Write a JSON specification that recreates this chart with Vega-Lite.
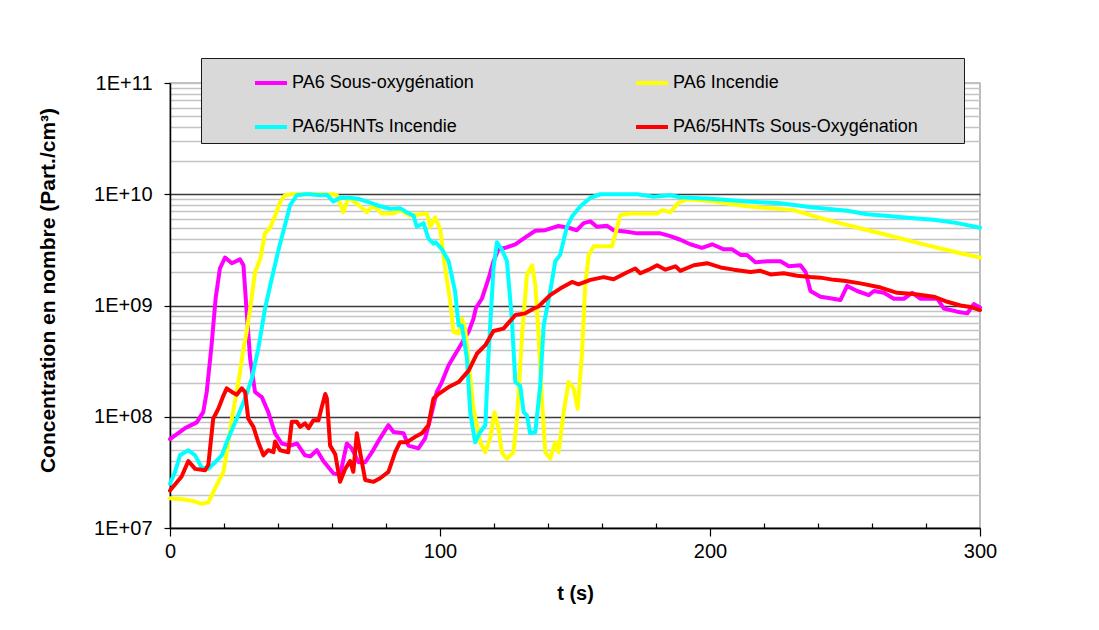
{
  "$schema": "https://vega.github.io/schema/vega-lite/v6.json",
  "width": 810,
  "height": 445,
  "autosize": "none",
  "padding": {"left": 170, "top": 83, "right": 119, "bottom": 102},
  "background": "white",
  "config": {
    "font": "Liberation Sans",
    "view": {"stroke": "#a6a6a6", "strokeWidth": 1.5},
    "legend": {
      "orient": "none",
      "legendX": 31,
      "legendY": -25,
      "columns": 2,
      "fillColor": "#d9d9d9",
      "strokeColor": "#1a1a1a",
      "padding": 7,
      "symbolType": "stroke",
      "symbolSize": 1024,
      "symbolStrokeWidth": 4,
      "symbolOffset": 45,
      "labelFont": "Liberation Sans",
      "labelFontSize": 18,
      "labelColor": "#000000",
      "labelOffset": 3,
      "labelLimit": 400,
      "columnPadding": 115,
      "rowPadding": 17
    }
  },
  "data": {
    "values": [
      {"s": "PA6 Sous-oxygénation", "t": 0, "v": 6.3e7},
      {"s": "PA6 Sous-oxygénation", "t": 5.6, "v": 7.9e7},
      {"s": "PA6 Sous-oxygénation", "t": 9.9, "v": 8.9e7},
      {"s": "PA6 Sous-oxygénation", "t": 12.3, "v": 1.1e8},
      {"s": "PA6 Sous-oxygénation", "t": 13.6, "v": 1.67e8},
      {"s": "PA6 Sous-oxygénation", "t": 15.4, "v": 4.4e8},
      {"s": "PA6 Sous-oxygénation", "t": 16.9, "v": 1.16e9},
      {"s": "PA6 Sous-oxygénation", "t": 18.5, "v": 2.16e9},
      {"s": "PA6 Sous-oxygénation", "t": 20.4, "v": 2.7e9},
      {"s": "PA6 Sous-oxygénation", "t": 22.9, "v": 2.4e9},
      {"s": "PA6 Sous-oxygénation", "t": 25.9, "v": 2.6e9},
      {"s": "PA6 Sous-oxygénation", "t": 27.2, "v": 2.3e9},
      {"s": "PA6 Sous-oxygénation", "t": 28.4, "v": 8.8e8},
      {"s": "PA6 Sous-oxygénation", "t": 29.7, "v": 3.3e8},
      {"s": "PA6 Sous-oxygénation", "t": 31.5, "v": 1.67e8},
      {"s": "PA6 Sous-oxygénation", "t": 34, "v": 1.5e8},
      {"s": "PA6 Sous-oxygénation", "t": 36.4, "v": 1.1e8},
      {"s": "PA6 Sous-oxygénation", "t": 38.9, "v": 7.1e7},
      {"s": "PA6 Sous-oxygénation", "t": 41.4, "v": 5.75e7},
      {"s": "PA6 Sous-oxygénation", "t": 44.5, "v": 5.5e7},
      {"s": "PA6 Sous-oxygénation", "t": 47, "v": 5.75e7},
      {"s": "PA6 Sous-oxygénation", "t": 50, "v": 4.5e7},
      {"s": "PA6 Sous-oxygénation", "t": 51.9, "v": 4.4e7},
      {"s": "PA6 Sous-oxygénation", "t": 54.4, "v": 5e7},
      {"s": "PA6 Sous-oxygénation", "t": 56.8, "v": 4e7},
      {"s": "PA6 Sous-oxygénation", "t": 60.5, "v": 3.1e7},
      {"s": "PA6 Sous-oxygénation", "t": 63, "v": 3e7},
      {"s": "PA6 Sous-oxygénation", "t": 65.5, "v": 5.75e7},
      {"s": "PA6 Sous-oxygénation", "t": 67.3, "v": 5.2e7},
      {"s": "PA6 Sous-oxygénation", "t": 69.8, "v": 3.9e7},
      {"s": "PA6 Sous-oxygénation", "t": 72.3, "v": 3.9e7},
      {"s": "PA6 Sous-oxygénation", "t": 74.8, "v": 4.8e7},
      {"s": "PA6 Sous-oxygénation", "t": 77.8, "v": 6.4e7},
      {"s": "PA6 Sous-oxygénation", "t": 80.9, "v": 8.4e7},
      {"s": "PA6 Sous-oxygénation", "t": 82.8, "v": 7.3e7},
      {"s": "PA6 Sous-oxygénation", "t": 86.5, "v": 7.1e7},
      {"s": "PA6 Sous-oxygénation", "t": 88.3, "v": 5.5e7},
      {"s": "PA6 Sous-oxygénation", "t": 92, "v": 5.2e7},
      {"s": "PA6 Sous-oxygénation", "t": 94.5, "v": 6.4e7},
      {"s": "PA6 Sous-oxygénation", "t": 97, "v": 1.1e8},
      {"s": "PA6 Sous-oxygénation", "t": 98.8, "v": 1.67e8},
      {"s": "PA6 Sous-oxygénation", "t": 100.7, "v": 2.05e8},
      {"s": "PA6 Sous-oxygénation", "t": 103.2, "v": 2.9e8},
      {"s": "PA6 Sous-oxygénation", "t": 106.9, "v": 4.1e8},
      {"s": "PA6 Sous-oxygénation", "t": 110.6, "v": 5.8e8},
      {"s": "PA6 Sous-oxygénation", "t": 112.4, "v": 7.6e8},
      {"s": "PA6 Sous-oxygénation", "t": 113.3, "v": 9.5e8},
      {"s": "PA6 Sous-oxygénation", "t": 115.5, "v": 1.15e9},
      {"s": "PA6 Sous-oxygénation", "t": 118, "v": 1.75e9},
      {"s": "PA6 Sous-oxygénation", "t": 119.8, "v": 2.5e9},
      {"s": "PA6 Sous-oxygénation", "t": 121.7, "v": 3.2e9},
      {"s": "PA6 Sous-oxygénation", "t": 124.2, "v": 3.3e9},
      {"s": "PA6 Sous-oxygénation", "t": 127.9, "v": 3.55e9},
      {"s": "PA6 Sous-oxygénation", "t": 131.6, "v": 4.1e9},
      {"s": "PA6 Sous-oxygénation", "t": 135.3, "v": 4.7e9},
      {"s": "PA6 Sous-oxygénation", "t": 139, "v": 4.75e9},
      {"s": "PA6 Sous-oxygénation", "t": 143.9, "v": 5.2e9},
      {"s": "PA6 Sous-oxygénation", "t": 147.6, "v": 5e9},
      {"s": "PA6 Sous-oxygénation", "t": 150.7, "v": 4.75e9},
      {"s": "PA6 Sous-oxygénation", "t": 153.2, "v": 5.5e9},
      {"s": "PA6 Sous-oxygénation", "t": 155.7, "v": 5.7e9},
      {"s": "PA6 Sous-oxygénation", "t": 158.1, "v": 5.1e9},
      {"s": "PA6 Sous-oxygénation", "t": 161.9, "v": 5.2e9},
      {"s": "PA6 Sous-oxygénation", "t": 164.3, "v": 4.75e9},
      {"s": "PA6 Sous-oxygénation", "t": 169.3, "v": 4.6e9},
      {"s": "PA6 Sous-oxygénation", "t": 173, "v": 4.45e9},
      {"s": "PA6 Sous-oxygénation", "t": 177.9, "v": 4.45e9},
      {"s": "PA6 Sous-oxygénation", "t": 181.6, "v": 4.45e9},
      {"s": "PA6 Sous-oxygénation", "t": 185.3, "v": 4.2e9},
      {"s": "PA6 Sous-oxygénation", "t": 189, "v": 3.9e9},
      {"s": "PA6 Sous-oxygénation", "t": 192.7, "v": 3.55e9},
      {"s": "PA6 Sous-oxygénation", "t": 197, "v": 3.3e9},
      {"s": "PA6 Sous-oxygénation", "t": 200.8, "v": 3.55e9},
      {"s": "PA6 Sous-oxygénation", "t": 205.1, "v": 3.2e9},
      {"s": "PA6 Sous-oxygénation", "t": 208.2, "v": 3.2e9},
      {"s": "PA6 Sous-oxygénation", "t": 211.3, "v": 2.85e9},
      {"s": "PA6 Sous-oxygénation", "t": 213.7, "v": 2.85e9},
      {"s": "PA6 Sous-oxygénation", "t": 216.8, "v": 2.45e9},
      {"s": "PA6 Sous-oxygénation", "t": 221.2, "v": 2.5e9},
      {"s": "PA6 Sous-oxygénation", "t": 226.1, "v": 2.5e9},
      {"s": "PA6 Sous-oxygénation", "t": 229.2, "v": 2.25e9},
      {"s": "PA6 Sous-oxygénation", "t": 233.5, "v": 2.3e9},
      {"s": "PA6 Sous-oxygénation", "t": 235.4, "v": 2e9},
      {"s": "PA6 Sous-oxygénation", "t": 237.2, "v": 1.35e9},
      {"s": "PA6 Sous-oxygénation", "t": 240.9, "v": 1.2e9},
      {"s": "PA6 Sous-oxygénation", "t": 244, "v": 1.17e9},
      {"s": "PA6 Sous-oxygénation", "t": 248.3, "v": 1.12e9},
      {"s": "PA6 Sous-oxygénation", "t": 250.8, "v": 1.5e9},
      {"s": "PA6 Sous-oxygénation", "t": 254.5, "v": 1.35e9},
      {"s": "PA6 Sous-oxygénation", "t": 258.8, "v": 1.24e9},
      {"s": "PA6 Sous-oxygénation", "t": 260.7, "v": 1.35e9},
      {"s": "PA6 Sous-oxygénation", "t": 264.4, "v": 1.3e9},
      {"s": "PA6 Sous-oxygénation", "t": 268.1, "v": 1.15e9},
      {"s": "PA6 Sous-oxygénation", "t": 271.8, "v": 1.15e9},
      {"s": "PA6 Sous-oxygénation", "t": 274.9, "v": 1.3e9},
      {"s": "PA6 Sous-oxygénation", "t": 278, "v": 1.15e9},
      {"s": "PA6 Sous-oxygénation", "t": 284.2, "v": 1.15e9},
      {"s": "PA6 Sous-oxygénation", "t": 286.6, "v": 9.4e8},
      {"s": "PA6 Sous-oxygénation", "t": 291.6, "v": 8.8e8},
      {"s": "PA6 Sous-oxygénation", "t": 295.3, "v": 8.5e8},
      {"s": "PA6 Sous-oxygénation", "t": 297.7, "v": 1.03e9},
      {"s": "PA6 Sous-oxygénation", "t": 300, "v": 9.6e8},

      {"s": "PA6 Incendie", "t": 0, "v": 1.85e7},
      {"s": "PA6 Incendie", "t": 5.6, "v": 1.8e7},
      {"s": "PA6 Incendie", "t": 9.3, "v": 1.73e7},
      {"s": "PA6 Incendie", "t": 11.7, "v": 1.65e7},
      {"s": "PA6 Incendie", "t": 14.2, "v": 1.7e7},
      {"s": "PA6 Incendie", "t": 16, "v": 2.1e7},
      {"s": "PA6 Incendie", "t": 17.9, "v": 2.6e7},
      {"s": "PA6 Incendie", "t": 19.8, "v": 3.2e7},
      {"s": "PA6 Incendie", "t": 21, "v": 4.8e7},
      {"s": "PA6 Incendie", "t": 22.9, "v": 9.6e7},
      {"s": "PA6 Incendie", "t": 24.7, "v": 1.67e8},
      {"s": "PA6 Incendie", "t": 25.9, "v": 2.5e8},
      {"s": "PA6 Incendie", "t": 27.2, "v": 4.1e8},
      {"s": "PA6 Incendie", "t": 28.4, "v": 5.8e8},
      {"s": "PA6 Incendie", "t": 29.7, "v": 9.4e8},
      {"s": "PA6 Incendie", "t": 31.5, "v": 2e9},
      {"s": "PA6 Incendie", "t": 33.4, "v": 2.6e9},
      {"s": "PA6 Incendie", "t": 35.2, "v": 4.5e9},
      {"s": "PA6 Incendie", "t": 37.1, "v": 5e9},
      {"s": "PA6 Incendie", "t": 38.9, "v": 6.4e9},
      {"s": "PA6 Incendie", "t": 40.8, "v": 8.5e9},
      {"s": "PA6 Incendie", "t": 42.6, "v": 9.8e9},
      {"s": "PA6 Incendie", "t": 45, "v": 1e10},
      {"s": "PA6 Incendie", "t": 55, "v": 1e10},
      {"s": "PA6 Incendie", "t": 60.5, "v": 1e10},
      {"s": "PA6 Incendie", "t": 61.8, "v": 9.8e9},
      {"s": "PA6 Incendie", "t": 64.2, "v": 6.9e9},
      {"s": "PA6 Incendie", "t": 66.1, "v": 9.3e9},
      {"s": "PA6 Incendie", "t": 70.4, "v": 7.8e9},
      {"s": "PA6 Incendie", "t": 72.9, "v": 6.9e9},
      {"s": "PA6 Incendie", "t": 74.8, "v": 7.8e9},
      {"s": "PA6 Incendie", "t": 76.6, "v": 7.4e9},
      {"s": "PA6 Incendie", "t": 78.5, "v": 6.7e9},
      {"s": "PA6 Incendie", "t": 82.8, "v": 6.7e9},
      {"s": "PA6 Incendie", "t": 85.2, "v": 7.2e9},
      {"s": "PA6 Incendie", "t": 88.9, "v": 6.4e9},
      {"s": "PA6 Incendie", "t": 95.1, "v": 6.7e9},
      {"s": "PA6 Incendie", "t": 96.4, "v": 5.1e9},
      {"s": "PA6 Incendie", "t": 98.2, "v": 6.2e9},
      {"s": "PA6 Incendie", "t": 100.1, "v": 4.8e9},
      {"s": "PA6 Incendie", "t": 101.9, "v": 2.15e9},
      {"s": "PA6 Incendie", "t": 103.8, "v": 1.08e9},
      {"s": "PA6 Incendie", "t": 105, "v": 5.8e8},
      {"s": "PA6 Incendie", "t": 106.9, "v": 5.6e8},
      {"s": "PA6 Incendie", "t": 108.1, "v": 7.6e8},
      {"s": "PA6 Incendie", "t": 109.3, "v": 6.2e8},
      {"s": "PA6 Incendie", "t": 110.6, "v": 3.1e8},
      {"s": "PA6 Incendie", "t": 112.4, "v": 1.18e8},
      {"s": "PA6 Incendie", "t": 114.9, "v": 5.9e7},
      {"s": "PA6 Incendie", "t": 116.8, "v": 4.8e7},
      {"s": "PA6 Incendie", "t": 118.6, "v": 6.4e7},
      {"s": "PA6 Incendie", "t": 120.2, "v": 1.1e8},
      {"s": "PA6 Incendie", "t": 121.7, "v": 7.8e7},
      {"s": "PA6 Incendie", "t": 122.9, "v": 4.8e7},
      {"s": "PA6 Incendie", "t": 124.8, "v": 4.2e7},
      {"s": "PA6 Incendie", "t": 127.2, "v": 4.8e7},
      {"s": "PA6 Incendie", "t": 128.5, "v": 9.6e7},
      {"s": "PA6 Incendie", "t": 130.4, "v": 5.4e8},
      {"s": "PA6 Incendie", "t": 132.2, "v": 1.9e9},
      {"s": "PA6 Incendie", "t": 134.1, "v": 2.3e9},
      {"s": "PA6 Incendie", "t": 135.3, "v": 1.53e9},
      {"s": "PA6 Incendie", "t": 136.5, "v": 5.4e8},
      {"s": "PA6 Incendie", "t": 137.8, "v": 1.36e8},
      {"s": "PA6 Incendie", "t": 139, "v": 4.8e7},
      {"s": "PA6 Incendie", "t": 140.8, "v": 4.2e7},
      {"s": "PA6 Incendie", "t": 142.7, "v": 5.9e7},
      {"s": "PA6 Incendie", "t": 143.9, "v": 4.8e7},
      {"s": "PA6 Incendie", "t": 145.8, "v": 1.1e8},
      {"s": "PA6 Incendie", "t": 147.6, "v": 2.05e8},
      {"s": "PA6 Incendie", "t": 149.5, "v": 1.8e8},
      {"s": "PA6 Incendie", "t": 151, "v": 1.18e8},
      {"s": "PA6 Incendie", "t": 152.6, "v": 3.75e8},
      {"s": "PA6 Incendie", "t": 153.8, "v": 1.53e9},
      {"s": "PA6 Incendie", "t": 155.1, "v": 2.85e9},
      {"s": "PA6 Incendie", "t": 156.9, "v": 3.4e9},
      {"s": "PA6 Incendie", "t": 163.7, "v": 3.4e9},
      {"s": "PA6 Incendie", "t": 166.8, "v": 6.5e9},
      {"s": "PA6 Incendie", "t": 170.5, "v": 6.7e9},
      {"s": "PA6 Incendie", "t": 180.4, "v": 6.7e9},
      {"s": "PA6 Incendie", "t": 182.3, "v": 7.2e9},
      {"s": "PA6 Incendie", "t": 185.3, "v": 6.9e9},
      {"s": "PA6 Incendie", "t": 188.4, "v": 8.4e9},
      {"s": "PA6 Incendie", "t": 191.5, "v": 9e9},
      {"s": "PA6 Incendie", "t": 200.1, "v": 8.7e9},
      {"s": "PA6 Incendie", "t": 213.7, "v": 7.8e9},
      {"s": "PA6 Incendie", "t": 231, "v": 7.2e9},
      {"s": "PA6 Incendie", "t": 240.9, "v": 6.1e9},
      {"s": "PA6 Incendie", "t": 253.3, "v": 5.1e9},
      {"s": "PA6 Incendie", "t": 265.6, "v": 4.3e9},
      {"s": "PA6 Incendie", "t": 278, "v": 3.6e9},
      {"s": "PA6 Incendie", "t": 286.6, "v": 3.2e9},
      {"s": "PA6 Incendie", "t": 292.8, "v": 2.95e9},
      {"s": "PA6 Incendie", "t": 300, "v": 2.7e9},

      {"s": "PA6/5HNTs Incendie", "t": 0, "v": 2.5e7},
      {"s": "PA6/5HNTs Incendie", "t": 1.9, "v": 3.2e7},
      {"s": "PA6/5HNTs Incendie", "t": 3.7, "v": 4.5e7},
      {"s": "PA6/5HNTs Incendie", "t": 6.8, "v": 5e7},
      {"s": "PA6/5HNTs Incendie", "t": 9.3, "v": 4.5e7},
      {"s": "PA6/5HNTs Incendie", "t": 11.7, "v": 3.5e7},
      {"s": "PA6/5HNTs Incendie", "t": 14.2, "v": 3.4e7},
      {"s": "PA6/5HNTs Incendie", "t": 16.7, "v": 3.9e7},
      {"s": "PA6/5HNTs Incendie", "t": 19.2, "v": 4.5e7},
      {"s": "PA6/5HNTs Incendie", "t": 21.6, "v": 6.4e7},
      {"s": "PA6/5HNTs Incendie", "t": 24.7, "v": 9.6e7},
      {"s": "PA6/5HNTs Incendie", "t": 27.8, "v": 1.46e8},
      {"s": "PA6/5HNTs Incendie", "t": 30.3, "v": 2.2e8},
      {"s": "PA6/5HNTs Incendie", "t": 32.7, "v": 4.1e8},
      {"s": "PA6/5HNTs Incendie", "t": 35.2, "v": 9.4e8},
      {"s": "PA6/5HNTs Incendie", "t": 37.7, "v": 1.75e9},
      {"s": "PA6/5HNTs Incendie", "t": 40.1, "v": 3.1e9},
      {"s": "PA6/5HNTs Incendie", "t": 42.6, "v": 5.3e9},
      {"s": "PA6/5HNTs Incendie", "t": 44.5, "v": 8e9},
      {"s": "PA6/5HNTs Incendie", "t": 47, "v": 9.8e9},
      {"s": "PA6/5HNTs Incendie", "t": 50, "v": 1e10},
      {"s": "PA6/5HNTs Incendie", "t": 51.9, "v": 1e10},
      {"s": "PA6/5HNTs Incendie", "t": 55.6, "v": 9.8e9},
      {"s": "PA6/5HNTs Incendie", "t": 58.1, "v": 9.9e9},
      {"s": "PA6/5HNTs Incendie", "t": 60.5, "v": 8.6e9},
      {"s": "PA6/5HNTs Incendie", "t": 63, "v": 9.3e9},
      {"s": "PA6/5HNTs Incendie", "t": 66.7, "v": 9.3e9},
      {"s": "PA6/5HNTs Incendie", "t": 70.4, "v": 9e9},
      {"s": "PA6/5HNTs Incendie", "t": 74.1, "v": 8.4e9},
      {"s": "PA6/5HNTs Incendie", "t": 77.8, "v": 7.8e9},
      {"s": "PA6/5HNTs Incendie", "t": 81.5, "v": 7.4e9},
      {"s": "PA6/5HNTs Incendie", "t": 85.2, "v": 7.5e9},
      {"s": "PA6/5HNTs Incendie", "t": 87.7, "v": 6.9e9},
      {"s": "PA6/5HNTs Incendie", "t": 90.2, "v": 6.4e9},
      {"s": "PA6/5HNTs Incendie", "t": 91.4, "v": 5.1e9},
      {"s": "PA6/5HNTs Incendie", "t": 93.9, "v": 5.5e9},
      {"s": "PA6/5HNTs Incendie", "t": 95.7, "v": 4e9},
      {"s": "PA6/5HNTs Incendie", "t": 97.6, "v": 3.6e9},
      {"s": "PA6/5HNTs Incendie", "t": 98.4, "v": 3.7e9},
      {"s": "PA6/5HNTs Incendie", "t": 100.7, "v": 3.2e9},
      {"s": "PA6/5HNTs Incendie", "t": 103.2, "v": 2.5e9},
      {"s": "PA6/5HNTs Incendie", "t": 105.6, "v": 1.33e9},
      {"s": "PA6/5HNTs Incendie", "t": 106.9, "v": 6.6e8},
      {"s": "PA6/5HNTs Incendie", "t": 108.1, "v": 6.6e8},
      {"s": "PA6/5HNTs Incendie", "t": 110, "v": 3.3e8},
      {"s": "PA6/5HNTs Incendie", "t": 111.2, "v": 1.1e8},
      {"s": "PA6/5HNTs Incendie", "t": 113, "v": 5.9e7},
      {"s": "PA6/5HNTs Incendie", "t": 114.9, "v": 7.3e7},
      {"s": "PA6/5HNTs Incendie", "t": 116.8, "v": 8.4e7},
      {"s": "PA6/5HNTs Incendie", "t": 118, "v": 3.75e8},
      {"s": "PA6/5HNTs Incendie", "t": 119.8, "v": 2.15e9},
      {"s": "PA6/5HNTs Incendie", "t": 121.1, "v": 3.7e9},
      {"s": "PA6/5HNTs Incendie", "t": 122.9, "v": 3.2e9},
      {"s": "PA6/5HNTs Incendie", "t": 124.8, "v": 2.5e9},
      {"s": "PA6/5HNTs Incendie", "t": 126.6, "v": 7.6e8},
      {"s": "PA6/5HNTs Incendie", "t": 127.9, "v": 2.05e8},
      {"s": "PA6/5HNTs Incendie", "t": 129.7, "v": 1.9e8},
      {"s": "PA6/5HNTs Incendie", "t": 131, "v": 1.1e8},
      {"s": "PA6/5HNTs Incendie", "t": 132.2, "v": 1.03e8},
      {"s": "PA6/5HNTs Incendie", "t": 133.4, "v": 7.1e7},
      {"s": "PA6/5HNTs Incendie", "t": 135.3, "v": 7.3e7},
      {"s": "PA6/5HNTs Incendie", "t": 137.1, "v": 1.9e8},
      {"s": "PA6/5HNTs Incendie", "t": 138.4, "v": 6.6e8},
      {"s": "PA6/5HNTs Incendie", "t": 140.8, "v": 1.33e9},
      {"s": "PA6/5HNTs Incendie", "t": 142.7, "v": 2.5e9},
      {"s": "PA6/5HNTs Incendie", "t": 144.5, "v": 2.85e9},
      {"s": "PA6/5HNTs Incendie", "t": 147, "v": 5.1e9},
      {"s": "PA6/5HNTs Incendie", "t": 148.9, "v": 6.3e9},
      {"s": "PA6/5HNTs Incendie", "t": 152, "v": 7.8e9},
      {"s": "PA6/5HNTs Incendie", "t": 155.7, "v": 9.3e9},
      {"s": "PA6/5HNTs Incendie", "t": 159.4, "v": 1e10},
      {"s": "PA6/5HNTs Incendie", "t": 173, "v": 1e10},
      {"s": "PA6/5HNTs Incendie", "t": 179.1, "v": 9.5e9},
      {"s": "PA6/5HNTs Incendie", "t": 185.3, "v": 9.8e9},
      {"s": "PA6/5HNTs Incendie", "t": 189, "v": 9.4e9},
      {"s": "PA6/5HNTs Incendie", "t": 200.1, "v": 9.1e9},
      {"s": "PA6/5HNTs Incendie", "t": 213.7, "v": 8.6e9},
      {"s": "PA6/5HNTs Incendie", "t": 226.1, "v": 8.3e9},
      {"s": "PA6/5HNTs Incendie", "t": 238.4, "v": 7.6e9},
      {"s": "PA6/5HNTs Incendie", "t": 250.8, "v": 7.1e9},
      {"s": "PA6/5HNTs Incendie", "t": 258.2, "v": 6.6e9},
      {"s": "PA6/5HNTs Incendie", "t": 265, "v": 6.4e9},
      {"s": "PA6/5HNTs Incendie", "t": 275.5, "v": 6.1e9},
      {"s": "PA6/5HNTs Incendie", "t": 282.9, "v": 5.9e9},
      {"s": "PA6/5HNTs Incendie", "t": 291.6, "v": 5.5e9},
      {"s": "PA6/5HNTs Incendie", "t": 300, "v": 5e9},

      {"s": "PA6/5HNTs Sous-Oxygénation", "t": 0, "v": 2.17e7},
      {"s": "PA6/5HNTs Sous-Oxygénation", "t": 4.3, "v": 2.9e7},
      {"s": "PA6/5HNTs Sous-Oxygénation", "t": 6.8, "v": 4e7},
      {"s": "PA6/5HNTs Sous-Oxygénation", "t": 9.3, "v": 3.4e7},
      {"s": "PA6/5HNTs Sous-Oxygénation", "t": 13, "v": 3.3e7},
      {"s": "PA6/5HNTs Sous-Oxygénation", "t": 14.2, "v": 3.7e7},
      {"s": "PA6/5HNTs Sous-Oxygénation", "t": 16, "v": 9.6e7},
      {"s": "PA6/5HNTs Sous-Oxygénation", "t": 17.9, "v": 1.18e8},
      {"s": "PA6/5HNTs Sous-Oxygénation", "t": 19.8, "v": 1.55e8},
      {"s": "PA6/5HNTs Sous-Oxygénation", "t": 21, "v": 1.8e8},
      {"s": "PA6/5HNTs Sous-Oxygénation", "t": 22.9, "v": 1.67e8},
      {"s": "PA6/5HNTs Sous-Oxygénation", "t": 24.7, "v": 1.58e8},
      {"s": "PA6/5HNTs Sous-Oxygénation", "t": 26.6, "v": 1.8e8},
      {"s": "PA6/5HNTs Sous-Oxygénation", "t": 27.8, "v": 1.67e8},
      {"s": "PA6/5HNTs Sous-Oxygénation", "t": 29, "v": 9.6e7},
      {"s": "PA6/5HNTs Sous-Oxygénation", "t": 30.9, "v": 8.1e7},
      {"s": "PA6/5HNTs Sous-Oxygénation", "t": 32.7, "v": 5.9e7},
      {"s": "PA6/5HNTs Sous-Oxygénation", "t": 34.6, "v": 4.5e7},
      {"s": "PA6/5HNTs Sous-Oxygénation", "t": 36.4, "v": 5e7},
      {"s": "PA6/5HNTs Sous-Oxygénation", "t": 38.3, "v": 4.8e7},
      {"s": "PA6/5HNTs Sous-Oxygénation", "t": 38.9, "v": 6e7},
      {"s": "PA6/5HNTs Sous-Oxygénation", "t": 40.8, "v": 5e7},
      {"s": "PA6/5HNTs Sous-Oxygénation", "t": 43.8, "v": 4.8e7},
      {"s": "PA6/5HNTs Sous-Oxygénation", "t": 45.1, "v": 9e7},
      {"s": "PA6/5HNTs Sous-Oxygénation", "t": 47, "v": 9e7},
      {"s": "PA6/5HNTs Sous-Oxygénation", "t": 48.2, "v": 8.1e7},
      {"s": "PA6/5HNTs Sous-Oxygénation", "t": 50, "v": 8.7e7},
      {"s": "PA6/5HNTs Sous-Oxygénation", "t": 51.3, "v": 7.9e7},
      {"s": "PA6/5HNTs Sous-Oxygénation", "t": 53.1, "v": 9.3e7},
      {"s": "PA6/5HNTs Sous-Oxygénation", "t": 55, "v": 9.3e7},
      {"s": "PA6/5HNTs Sous-Oxygénation", "t": 56.2, "v": 1.22e8},
      {"s": "PA6/5HNTs Sous-Oxygénation", "t": 57.5, "v": 1.6e8},
      {"s": "PA6/5HNTs Sous-Oxygénation", "t": 58.1, "v": 1.46e8},
      {"s": "PA6/5HNTs Sous-Oxygénation", "t": 59.3, "v": 5.5e7},
      {"s": "PA6/5HNTs Sous-Oxygénation", "t": 61.2, "v": 4.6e7},
      {"s": "PA6/5HNTs Sous-Oxygénation", "t": 63, "v": 2.6e7},
      {"s": "PA6/5HNTs Sous-Oxygénation", "t": 64.9, "v": 3.4e7},
      {"s": "PA6/5HNTs Sous-Oxygénation", "t": 66.7, "v": 4e7},
      {"s": "PA6/5HNTs Sous-Oxygénation", "t": 67.9, "v": 3.2e7},
      {"s": "PA6/5HNTs Sous-Oxygénation", "t": 69.2, "v": 7.1e7},
      {"s": "PA6/5HNTs Sous-Oxygénation", "t": 70.4, "v": 4.8e7},
      {"s": "PA6/5HNTs Sous-Oxygénation", "t": 72.3, "v": 2.7e7},
      {"s": "PA6/5HNTs Sous-Oxygénation", "t": 75.4, "v": 2.6e7},
      {"s": "PA6/5HNTs Sous-Oxygénation", "t": 77.8, "v": 2.8e7},
      {"s": "PA6/5HNTs Sous-Oxygénation", "t": 80.9, "v": 3.2e7},
      {"s": "PA6/5HNTs Sous-Oxygénation", "t": 83.4, "v": 4.8e7},
      {"s": "PA6/5HNTs Sous-Oxygénation", "t": 85.2, "v": 5.9e7},
      {"s": "PA6/5HNTs Sous-Oxygénation", "t": 87.7, "v": 5.9e7},
      {"s": "PA6/5HNTs Sous-Oxygénation", "t": 90.8, "v": 6.6e7},
      {"s": "PA6/5HNTs Sous-Oxygénation", "t": 93.3, "v": 7.1e7},
      {"s": "PA6/5HNTs Sous-Oxygénation", "t": 95.7, "v": 8.4e7},
      {"s": "PA6/5HNTs Sous-Oxygénation", "t": 97.6, "v": 1.46e8},
      {"s": "PA6/5HNTs Sous-Oxygénation", "t": 99.4, "v": 1.6e8},
      {"s": "PA6/5HNTs Sous-Oxygénation", "t": 103.2, "v": 1.85e8},
      {"s": "PA6/5HNTs Sous-Oxygénation", "t": 106.9, "v": 2.05e8},
      {"s": "PA6/5HNTs Sous-Oxygénation", "t": 110.6, "v": 2.6e8},
      {"s": "PA6/5HNTs Sous-Oxygénation", "t": 113.7, "v": 3.7e8},
      {"s": "PA6/5HNTs Sous-Oxygénation", "t": 116.8, "v": 4.4e8},
      {"s": "PA6/5HNTs Sous-Oxygénation", "t": 119.8, "v": 5.9e8},
      {"s": "PA6/5HNTs Sous-Oxygénation", "t": 123.5, "v": 6.2e8},
      {"s": "PA6/5HNTs Sous-Oxygénation", "t": 127.9, "v": 8.2e8},
      {"s": "PA6/5HNTs Sous-Oxygénation", "t": 131.6, "v": 8.5e8},
      {"s": "PA6/5HNTs Sous-Oxygénation", "t": 134.7, "v": 9.4e8},
      {"s": "PA6/5HNTs Sous-Oxygénation", "t": 136.5, "v": 9.8e8},
      {"s": "PA6/5HNTs Sous-Oxygénation", "t": 140.8, "v": 1.24e9},
      {"s": "PA6/5HNTs Sous-Oxygénation", "t": 144.5, "v": 1.42e9},
      {"s": "PA6/5HNTs Sous-Oxygénation", "t": 148.9, "v": 1.63e9},
      {"s": "PA6/5HNTs Sous-Oxygénation", "t": 151.3, "v": 1.55e9},
      {"s": "PA6/5HNTs Sous-Oxygénation", "t": 155.7, "v": 1.7e9},
      {"s": "PA6/5HNTs Sous-Oxygénation", "t": 160.6, "v": 1.8e9},
      {"s": "PA6/5HNTs Sous-Oxygénation", "t": 164.3, "v": 1.72e9},
      {"s": "PA6/5HNTs Sous-Oxygénation", "t": 168.6, "v": 1.95e9},
      {"s": "PA6/5HNTs Sous-Oxygénation", "t": 172.3, "v": 2.15e9},
      {"s": "PA6/5HNTs Sous-Oxygénation", "t": 174.2, "v": 1.95e9},
      {"s": "PA6/5HNTs Sous-Oxygénation", "t": 177.3, "v": 2.1e9},
      {"s": "PA6/5HNTs Sous-Oxygénation", "t": 180.4, "v": 2.3e9},
      {"s": "PA6/5HNTs Sous-Oxygénation", "t": 183.5, "v": 2.1e9},
      {"s": "PA6/5HNTs Sous-Oxygénation", "t": 187.2, "v": 2.25e9},
      {"s": "PA6/5HNTs Sous-Oxygénation", "t": 189, "v": 2.05e9},
      {"s": "PA6/5HNTs Sous-Oxygénation", "t": 194, "v": 2.3e9},
      {"s": "PA6/5HNTs Sous-Oxygénation", "t": 198.9, "v": 2.4e9},
      {"s": "PA6/5HNTs Sous-Oxygénation", "t": 203.9, "v": 2.2e9},
      {"s": "PA6/5HNTs Sous-Oxygénation", "t": 208.8, "v": 2.1e9},
      {"s": "PA6/5HNTs Sous-Oxygénation", "t": 215, "v": 2e9},
      {"s": "PA6/5HNTs Sous-Oxygénation", "t": 218.7, "v": 2.05e9},
      {"s": "PA6/5HNTs Sous-Oxygénation", "t": 222.4, "v": 1.9e9},
      {"s": "PA6/5HNTs Sous-Oxygénation", "t": 227.3, "v": 1.95e9},
      {"s": "PA6/5HNTs Sous-Oxygénation", "t": 232.3, "v": 1.85e9},
      {"s": "PA6/5HNTs Sous-Oxygénation", "t": 237.2, "v": 1.8e9},
      {"s": "PA6/5HNTs Sous-Oxygénation", "t": 240.9, "v": 1.78e9},
      {"s": "PA6/5HNTs Sous-Oxygénation", "t": 245.9, "v": 1.7e9},
      {"s": "PA6/5HNTs Sous-Oxygénation", "t": 249.6, "v": 1.67e9},
      {"s": "PA6/5HNTs Sous-Oxygénation", "t": 255.7, "v": 1.58e9},
      {"s": "PA6/5HNTs Sous-Oxygénation", "t": 263.2, "v": 1.45e9},
      {"s": "PA6/5HNTs Sous-Oxygénation", "t": 269.3, "v": 1.3e9},
      {"s": "PA6/5HNTs Sous-Oxygénation", "t": 275.5, "v": 1.27e9},
      {"s": "PA6/5HNTs Sous-Oxygénation", "t": 282.9, "v": 1.2e9},
      {"s": "PA6/5HNTs Sous-Oxygénation", "t": 287.9, "v": 1.08e9},
      {"s": "PA6/5HNTs Sous-Oxygénation", "t": 292.8, "v": 1e9},
      {"s": "PA6/5HNTs Sous-Oxygénation", "t": 296.5, "v": 9.7e8},
      {"s": "PA6/5HNTs Sous-Oxygénation", "t": 300, "v": 9.1e8}
    ]
  },
  "encoding": {
    "x": {
      "field": "t",
      "type": "quantitative",
      "scale": {"domain": [0, 300], "nice": false},
      "axis": {
        "title": "t (s)",
        "titleFont": "Liberation Sans",
        "titleFontSize": 20,
        "titleFontWeight": "bold",
        "titleColor": "#000000",
        "titlePadding": 22,
        "values": [0, 20, 40, 60, 80, 100, 120, 140, 160, 180, 200, 220, 240, 260, 280, 300],
        "labelExpr": "datum.value % 100 == 0 ? datum.label : ''",
        "labelFont": "Liberation Sans",
        "labelFontSize": 20,
        "labelColor": "#000000",
        "labelPadding": 5,
        "labelOverlap": false,
        "labelFlush": false,
        "grid": false,
        "domainColor": "#000000",
        "domainWidth": 1.5,
        "tickColor": "#000000",
        "tickWidth": 1.2,
        "tickSize": {"condition": {"test": "datum.value % 100 == 0", "value": 8}, "value": -5}
      }
    },
    "y": {
      "field": "v",
      "type": "quantitative",
      "scale": {"type": "log", "domain": [1e7, 1e11], "nice": false},
      "axis": {
        "title": "Concentration en nombre (Part./cm³)",
        "titleFont": "Liberation Sans",
        "titleFontSize": 21,
        "titleFontWeight": "bold",
        "titleColor": "#000000",
        "titlePadding": 35,
        "titleY": 207,
        "values": [1e7, 2e7, 3e7, 4e7, 5e7, 6e7, 7e7, 8e7, 9e7, 1e8, 2e8, 3e8, 4e8, 5e8, 6e8, 7e8, 8e8, 9e8, 1e9, 2e9, 3e9, 4e9, 5e9, 6e9, 7e9, 8e9, 9e9, 1e10, 2e10, 3e10, 4e10, 5e10, 6e10, 7e10, 8e10, 9e10, 1e11],
        "labelExpr": "abs(log(datum.value)/LN10 - round(log(datum.value)/LN10)) < 0.001 ? '1E+' + (round(log(datum.value)/LN10) < 10 ? '0' : '') + round(log(datum.value)/LN10) : ''",
        "labelFont": "Liberation Sans",
        "labelFontSize": 20,
        "labelColor": "#000000",
        "labelPadding": 12,
        "labelOverlap": false,
        "grid": true,
        "gridColor": {"condition": {"test": "abs(log(datum.value)/LN10 - round(log(datum.value)/LN10)) < 0.001 && datum.value < 5e10", "value": "#3a3a3a"}, "value": "#c4c4c4"},
        "gridWidth": 1.5,
        "domainColor": "#000000",
        "domainWidth": 1.5,
        "tickColor": "#000000",
        "tickWidth": 1.2,
        "tickSize": 6,
        "tickOpacity": {"condition": {"test": "abs(log(datum.value)/LN10 - round(log(datum.value)/LN10)) < 0.001", "value": 1}, "value": 0}
      }
    },
    "color": {
      "field": "s",
      "type": "nominal",
      "scale": {
        "domain": ["PA6 Sous-oxygénation", "PA6/5HNTs Incendie", "PA6 Incendie", "PA6/5HNTs Sous-Oxygénation"],
        "range": ["#ff00ff", "#00ffff", "#ffff00", "#ff0000"]
      },
      "legend": {
        "title": null,
        "labelExpr": "datum.label == 'PA6/5HNTs Sous-Oxygénation' ? datum.label + '\u2800\u2800\u2800' : datum.label"
      }
    }
  },
  "layer": [
    {"transform": [{"filter": "datum.s == 'PA6 Sous-oxygénation'"}], "mark": {"type": "line", "strokeWidth": 4, "strokeJoin": "round", "strokeCap": "round"}},
    {"transform": [{"filter": "datum.s == 'PA6 Incendie'"}], "mark": {"type": "line", "strokeWidth": 4, "strokeJoin": "round", "strokeCap": "round"}},
    {"transform": [{"filter": "datum.s == 'PA6/5HNTs Incendie'"}], "mark": {"type": "line", "strokeWidth": 4, "strokeJoin": "round", "strokeCap": "round"}},
    {"transform": [{"filter": "datum.s == 'PA6/5HNTs Sous-Oxygénation'"}], "mark": {"type": "line", "strokeWidth": 4, "strokeJoin": "round", "strokeCap": "round"}}
  ]
}
